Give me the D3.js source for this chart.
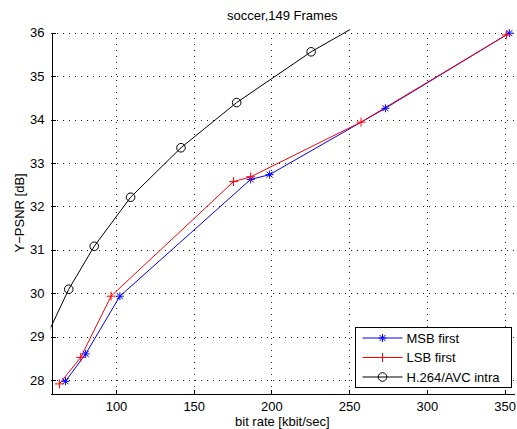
<!DOCTYPE html>
<html>
<head>
<meta charset="utf-8">
<script src="https://cdn.jsdelivr.net/npm/d3@7/dist/d3.min.js"></script>
<style>
  body { margin: 0; background: #fff; }
  svg { display: block; font-family: "Liberation Sans", Arial, Helvetica, sans-serif; }
  text { fill: #000; }
</style>
</head>
<body>
<script>
"use strict"

// Data
const msbRate  = [67.5, 80.5, 102.5, 186.6, 198.8, 273.3, 353.0]
const msbPsnr  = [27.97, 28.60, 29.93, 32.62, 32.73, 34.26, 35.99]
const lsbRate  = [63.6, 77.3, 96.8, 175.6, 186.6, 257.6, 351.1]
const lsbPsnr  = [27.91, 28.52, 29.93, 32.57, 32.68, 33.94, 35.95]
const h264Rate = [52.0, 69.6, 86.0, 109.4, 141.8, 177.6, 225.5, 250.5]
const h264Psnr = [28.75, 30.09, 31.08, 32.21, 33.35, 34.39, 35.56, 36.07]

const xTicks = [100, 150, 200, 250, 300, 350]
const yTicks = [28, 29, 30, 31, 32, 33, 34, 35, 36]

const seriesNames = ["MSB first", "LSB first", "H.264/AVC intra"]

const title  = "soccer,149 Frames"
const xTitle = "bit rate [kbit/sec]"
const yTitle = "Y\u2212PSNR [dB]"

const width  = 517
const height = 429
const margin = { top : 32.7, right : 3, bottom : 36, left : 50.7 }

const x = d3.scaleLinear().domain([58, 356]).range([margin.left, width - margin.right])
const y = d3.scaleLinear().domain([27.7, 36]).range([height - margin.bottom, margin.top])

const zip = (xs, ys) => xs.map((v, i) => [v, ys[i]])

const series = [
  { name : seriesNames[0], color : "#0000ff", marker : "star",   points : zip(msbRate, msbPsnr) },
  { name : seriesNames[1], color : "#ff0000", marker : "plus",   points : zip(lsbRate, lsbPsnr) },
  { name : seriesNames[2], color : "#000000", marker : "circle", points : zip(h264Rate, h264Psnr) },
]

const markerPath = kind => {
  if (kind === "plus") {
    const s = 4.5
    return `M${-s},0H${s}M0,${-s}V${s}`
  }
  if (kind === "star") {
    const s = 4, d = 3
    return `M${-s},0H${s}M0,${-s}V${s}M${-d},${-d}L${d},${d}M${-d},${d}L${d},${-d}`
  }
  const r = 4.3
  return `M${r},0A${r},${r} 0 1,1 ${-r},0A${r},${r} 0 1,1 ${r},0Z`
}

const svg = d3.select("body").append("svg")
  .attr("width", width)
  .attr("height", height)

const [x0, x1] = x.range()
const [y0, y1] = y.range()

// grid
const grid = svg.append("g").attr("class", "grid")
  .attr("stroke", "#222")
  .attr("stroke-width", 1)
  .attr("stroke-dasharray", "1 5")
  .attr("shape-rendering", "crispEdges")

grid.selectAll(".gx").data(xTicks).enter().append("line")
  .attr("x1", d => Math.round(x(d)) + 0.5)
  .attr("x2", d => Math.round(x(d)) + 0.5)
  .attr("y1", y0)
  .attr("y2", y1)

grid.selectAll(".gy").data(yTicks).enter().append("line")
  .attr("y1", d => Math.round(y(d)) + 0.5)
  .attr("y2", d => Math.round(y(d)) + 0.5)
  .attr("x1", x0)
  .attr("x2", x1)

// axes, ticks point inward
const xAxis = svg.append("g")
  .attr("transform", `translate(0 ${Math.round(y0) + 0.5})`)
  .call(d3.axisBottom(x).tickValues(xTicks).tickSizeInner(-4).tickSizeOuter(0).tickPadding(8))
const yAxis = svg.append("g")
  .attr("transform", `translate(${Math.round(x0) + 0.5} 0)`)
  .call(d3.axisLeft(y).tickValues(yTicks).tickSizeInner(-4).tickSizeOuter(0).tickPadding(7))

;[xAxis, yAxis].forEach(a => {
  a.attr("font-family", null).attr("font-size", 13)
  a.selectAll("path, line").attr("stroke", "#000").attr("shape-rendering", "crispEdges")
})
xAxis.selectAll("text").attr("dy", "0.72em")

// lines
svg.append("clipPath").attr("id", "plot-clip")
  .append("rect")
  .attr("x", x0)
  .attr("y", y1 - 6)
  .attr("width", x1 - x0)
  .attr("height", y0 - y1 + 6)

const line = d3.line().x(d => x(d[0])).y(d => y(d[1]))
const inside = ([a, b]) => a >= x.domain()[0] && a <= x.domain()[1] && b >= y.domain()[0] && b <= y.domain()[1]

const plot = svg.append("g").attr("clip-path", "url(#plot-clip)")

series.forEach(s => {
  plot.append("path")
    .datum(s.points)
    .attr("d", line)
    .attr("fill", "none")
    .attr("stroke", s.color)
    .attr("stroke-width", 1)
  svg.append("g").selectAll("path").data(s.points.filter(inside)).enter().append("path")
    .attr("transform", d => `translate(${x(d[0])} ${y(d[1])})`)
    .attr("d", markerPath(s.marker))
    .attr("fill", "none")
    .attr("stroke", s.color)
    .attr("stroke-width", 1)
})

// legend
const legend = svg.append("g").attr("transform", "translate(355.5 327.5)")
legend.append("rect")
  .attr("width", 156)
  .attr("height", 60)
  .attr("fill", "#fff")
  .attr("stroke", "#000")
  .attr("shape-rendering", "crispEdges")

const rows = legend.selectAll(".row").data(series).enter().append("g")
  .attr("class", "row")
  .attr("transform", (_, i) => `translate(0 ${10.5 + i * 19.5})`)
rows.append("line")
  .attr("x1", 7).attr("x2", 47)
  .attr("stroke", d => d.color)
rows.append("path")
  .attr("transform", "translate(27 0)")
  .attr("d", d => markerPath(d.marker))
  .attr("fill", "none")
  .attr("stroke", d => d.color)
rows.append("text")
  .attr("x", 51)
  .attr("dy", "0.36em")
  .attr("font-size", 13)
  .text(d => d.name)

// titles
svg.append("text")
  .attr("x", (x0 + x1) / 2)
  .attr("y", 20)
  .attr("text-anchor", "middle")
  .attr("font-size", 13)
  .text(title)

svg.append("text")
  .attr("x", (x0 + x1) / 2)
  .attr("y", 426)
  .attr("text-anchor", "middle")
  .attr("font-size", 13)
  .text(xTitle)

svg.append("text")
  .attr("transform", `translate(24 ${(y0 + y1) / 2}) rotate(-90)`)
  .attr("text-anchor", "middle")
  .attr("font-size", 13)
  .text(yTitle)
</script>
</body>
</html>
